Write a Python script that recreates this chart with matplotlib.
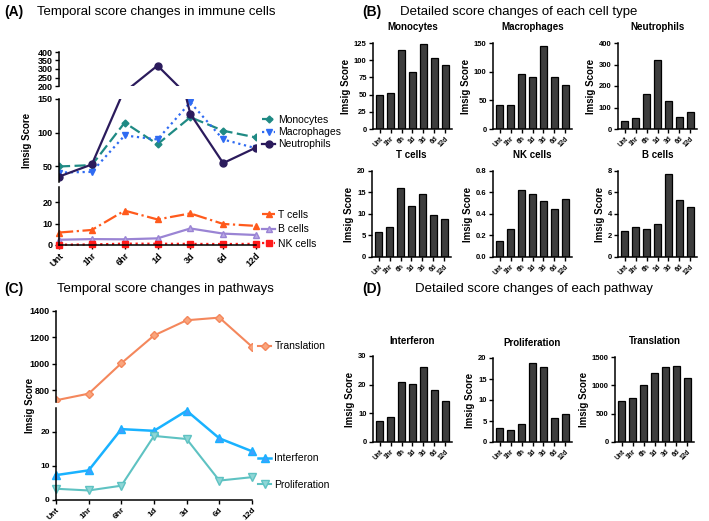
import numpy as np
import matplotlib.pyplot as plt

plt.rcParams['font.family'] = ['Liberation Sans', 'DejaVu Sans']

W, H = 709, 521

times_line = ["Unt", "1hr", "6hr", "1d", "3d", "6d", "12d"]
times_bar = ["Unt", "1hr", "6h", "1d", "3d", "6d", "12d"]

monocytes = [50, 52, 115, 83, 123, 103, 93]
macrophages = [41, 42, 96, 90, 145, 90, 77]
neutrophils = [35, 53, 165, 320, 128, 55, 78]
t_cells = [5.8, 7.0, 16.0, 11.9, 14.7, 9.8, 8.9]
nk_cells = [0.15, 0.26, 0.62, 0.59, 0.52, 0.45, 0.54]
b_cells = [2.45, 2.75, 2.65, 3.1, 7.7, 5.3, 4.65]

interferon = [7.3, 8.7, 20.8, 20.3, 26.2, 18.1, 14.3]
proliferation = [3.3, 2.8, 4.2, 18.8, 17.9, 5.7, 6.7]
translation = [725, 775, 1005, 1215, 1330, 1350, 1130]

fig = plt.figure(figsize=(W / 100, H / 100), dpi=100)


def ax_px(x0, y0, x1, y1):
    return fig.add_axes([x0 / W, 1 - y1 / H, (x1 - x0) / W, (y1 - y0) / H])


def style(ax, bottom=True, fs=6.5):
    ax.spines['top'].set_visible(False)
    ax.spines['right'].set_visible(False)
    ax.spines['left'].set_linewidth(1.1)
    ax.spines['bottom'].set_linewidth(1.1)
    ax.tick_params(axis='both', length=3, width=1.0, labelsize=fs, pad=1.5)
    for t in ax.get_yticklabels():
        t.set_fontweight('bold')
    if not bottom:
        ax.spines['bottom'].set_visible(False)
        ax.set_xticks([])


x = np.arange(7)
leg_kw = dict(frameon=False, fontsize=7.5, handlelength=1.2, handletextpad=0.35,
              borderaxespad=0.2)

# ---------- panel A ----------
series_a = [
    (monocytes, "Monocytes", dict(color="#1f8a84", ls=(0, (5, 2)), marker="D", ms=3.5)),
    (macrophages, "Macrophages", dict(color="#2f6bf2", ls=":", marker="v", ms=5)),
    (neutrophils, "Neutrophils", dict(color="#2b1b5c", ls="-", marker="o", ms=5)),
]
series_a2 = [
    (t_cells, "T cells", dict(color="#ff5a1c", ls="-.", marker="^", ms=5)),
    (b_cells, "B cells", dict(color="#9a84d4", ls="-", marker="^", ms=5, mfc="#b9a8e6")),
    (nk_cells, "NK cells", dict(color="#ff1a1a", ls=":", marker="s", ms=5)),
]

a_top = ax_px(59, 52, 256, 86)
a_mid = ax_px(59, 99, 256, 182)
a_bot = ax_px(59, 187, 256, 245)
for ax in (a_top, a_mid):
    for vals, lab, kw in series_a:
        ax.plot(x, vals, lw=1.6, label=lab, **kw)
for vals, lab, kw in series_a2:
    a_bot.plot(x, vals, lw=1.6, label=lab, clip_on=False, **kw)
for ax in (a_top, a_mid, a_bot):
    ax.set_xlim(0, 6)
a_top.set_ylim(200, 400)
a_top.set_yticks([200, 250, 300, 350, 400])
a_mid.set_ylim(27, 150)
a_mid.set_yticks([50, 100, 150])
a_bot.set_ylim(0, 27)
a_bot.set_yticks([0, 10, 20])
style(a_top, bottom=False)
style(a_mid, bottom=False)
a_bot.set_xticks(x)
a_bot.set_xticklabels(times_line, rotation=45, ha='right', rotation_mode='anchor',
                      fontweight='bold')
style(a_bot)
a_mid.set_ylabel("Imsig Score", fontsize=7, fontweight='bold', labelpad=4)
a_mid.legend(loc='center left', bbox_to_anchor=(1.0, 0.6), labelspacing=0.2, **leg_kw)
a_bot.legend(loc='center left', bbox_to_anchor=(1.0, 0.27), labelspacing=0.45, **leg_kw)

# ---------- panel C ----------
c_top = ax_px(56, 311, 252, 402)
c_bot = ax_px(56, 408, 252, 500)
c_top.plot(x, translation, color="#f4875c", lw=1.5, marker="D", ms=4,
           mfc="#f9a57d", label="Translation")
c_bot.plot(x, interferon, color="#19b2ff", lw=1.8, marker="^", ms=5.5,
           mfc="#3fa0ff", label="Interferon", clip_on=False)
c_bot.plot(x, proliferation, color="#5ec2c2", lw=1.5, marker="v", ms=5.5,
           mfc="#8fd6d6", label="Proliferation", clip_on=False)
for ax in (c_top, c_bot):
    ax.set_xlim(0, 6)
c_top.set_ylim(712, 1400)
c_top.set_yticks([800, 1000, 1200, 1400])
c_bot.set_ylim(0, 27)
c_bot.set_yticks([0, 10, 20])
style(c_top, bottom=False)
c_bot.set_xticks(x)
c_bot.set_xticklabels(times_line, rotation=45, ha='right', rotation_mode='anchor',
                      fontweight='bold')
style(c_bot, fs=6)
fig.text(30 / W, 1 - 405 / H, "Imsig Score", rotation=90, fontsize=7,
         fontweight='bold', ha='center', va='center')
c_top.legend(loc='center left', bbox_to_anchor=(1.0, 0.61), **leg_kw)
c_bot.legend(loc='center left', bbox_to_anchor=(1.0, 0.31), labelspacing=1.55, **leg_kw)

# ---------- bar panels ----------
bars = [
    (monocytes, "Monocytes", [0, 25, 50, 75, 100, 125], (373, 43, 452, 129)),
    (macrophages, "Macrophages", [0, 50, 100, 150], (493, 43, 572, 129)),
    (neutrophils, "Neutrophils", [0, 100, 200, 300, 400], (618, 43, 697, 129)),
    (t_cells, "T cells", [0, 5, 10, 15, 20], (372, 171, 451, 257)),
    (nk_cells, "NK cells", [0.0, 0.2, 0.4, 0.6, 0.8], (493, 171, 572, 257)),
    (b_cells, "B cells", [0, 2, 4, 6, 8], (618, 171, 697, 257)),
    (interferon, "Interferon", [0, 10, 20, 30], (373, 356, 452, 442)),
    (proliferation, "Proliferation", [0, 5, 10, 15, 20], (493, 358, 572, 442)),
    (translation, "Translation", [0, 500, 1000, 1500], (615, 357, 694, 442)),
]
for vals, name, ticks, box in bars:
    ax = ax_px(*box)
    ax.bar(x, vals, width=0.66, color="#3d3d3d", edgecolor="black", linewidth=0.9)
    ax.set_xlim(-0.6, 6.6)
    ax.set_ylim(0, ticks[-1])
    ax.set_yticks(ticks)
    if name == "NK cells":
        ax.set_yticklabels([f"{t:.1f}" for t in ticks])
    ax.set_xticks(x)
    ax.set_xticklabels(times_bar, rotation=45, ha='right', rotation_mode='anchor',
                       fontweight='bold')
    style(ax, fs=5.5)
    ax.tick_params(axis='x', labelsize=4.8)
    ax.set_title(name, fontsize=7, fontweight='bold', pad=9)
    ax.set_ylabel("Imsig Score", fontsize=7, fontweight='bold', labelpad=2)

# ---------- headings ----------
def heading(xp, yp, letter, text, x2):
    fig.text(xp / W, 1 - yp / H, letter, fontsize=10, fontweight='bold',
             va='center', ha='left')
    fig.text(x2 / W, 1 - yp / H, text, fontsize=9.5, va='center', ha='left')


heading(4, 12, "(A)", "Temporal score changes in immune cells", 37)
heading(362, 12, "(B)", "Detailed score changes of each cell type", 400)
heading(4, 289, "(C)", "Temporal score changes in pathways", 57)
heading(362, 289, "(D)", "Detailed score changes of each pathway", 415)

fig.savefig("out.png", dpi=100)
